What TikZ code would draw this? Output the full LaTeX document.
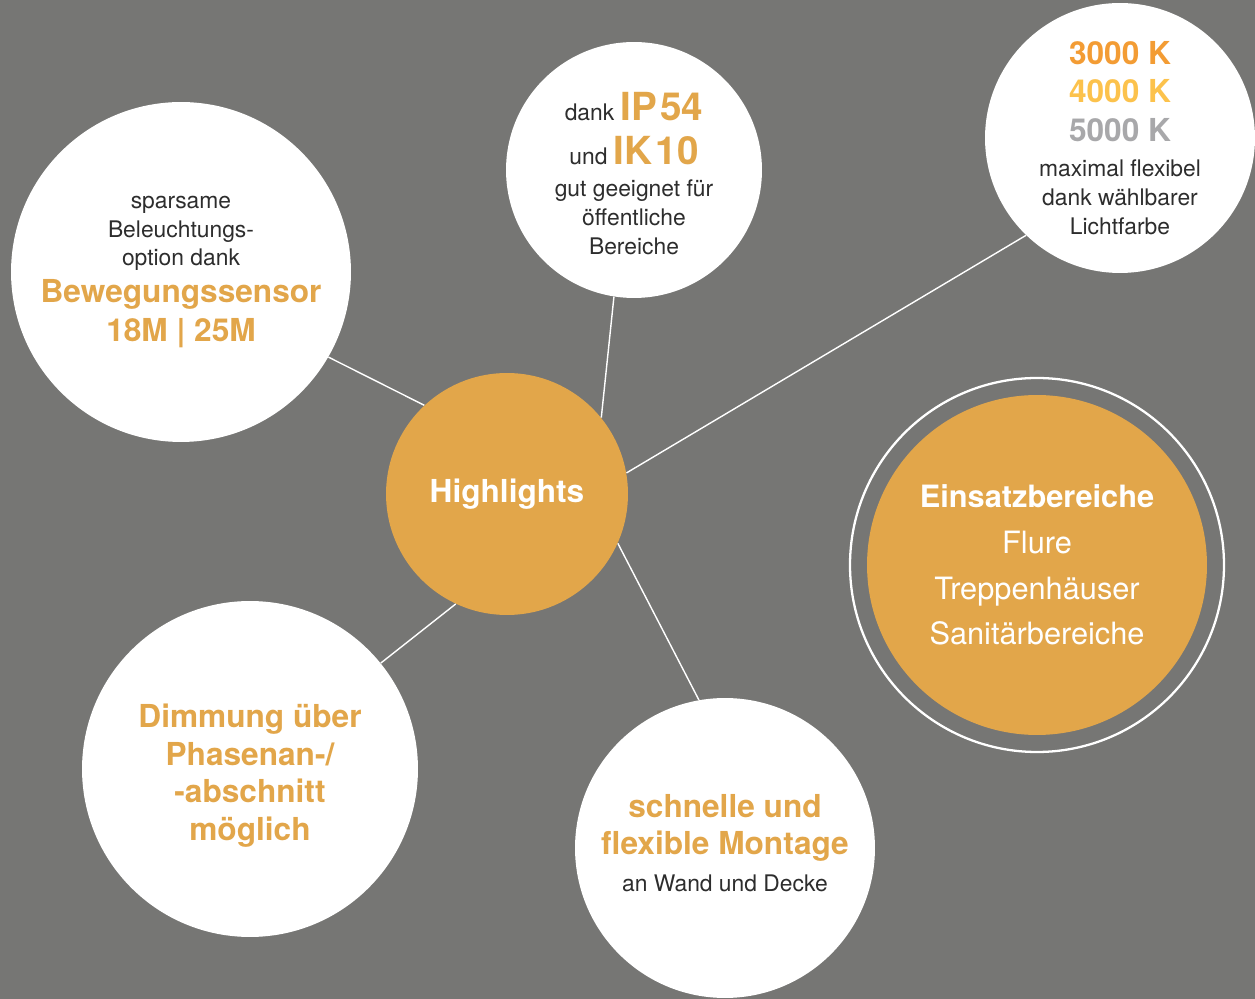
\documentclass[tikz,border=0pt]{standalone}
\usepackage{fontspec}
\setmainfont{TeX Gyre Heros}
\definecolor{bggray}{RGB}{118,118,116}
\definecolor{amber}{RGB}{226,166,74}
\definecolor{warmK}{RGB}{243,156,52}
\definecolor{neutralK}{RGB}{252,194,76}
\definecolor{coolK}{RGB}{168,168,170}
\definecolor{ink}{RGB}{45,45,45}
\newcommand{\txt}{\fontsize{13}{16.4}\selectfont}
\newcommand{\hilite}[1]{{\color{amber}\bfseries\fontsize{18}{21.6}\selectfont #1}}
\newcommand{\rating}[1]{{\color{amber}\bfseries\fontsize{22}{26}\selectfont #1}}

\begin{document}
\begin{tikzpicture}[x=0.02cm, y=-0.02cm,
    bubble/.style={circle, fill=white, inner sep=0pt, align=center, text=ink, font=\txt},
    hub/.style={circle, fill=amber, inner sep=0pt, align=center, text=white},
    link/.style={white, line width=0.8pt},
    ring/.style={white, line width=1.3pt}]
    \fill [bggray] (0,0) rectangle (1255,999);
    \useasboundingbox (0,0) rectangle (1255,999);
    \coordinate (H) at (507,494);
    \coordinate (S) at (181,272);
    \coordinate (I) at (634,170);
    \coordinate (K) at (1120,138);
    \coordinate (D) at (250,769);
    \coordinate (M) at (725,848);
    \coordinate (E) at (1037,565);
    \node[hub, minimum size=4.84cm, font=\bfseries\fontsize{18}{21.6}\selectfont] (hl) at (H) {Highlights};
    \node[bubble, minimum size=6.8cm] (sensor) at (S) {sparsame\\Beleuchtungs-\\option dank\\[4.6pt]\hilite{Bewegungssensor}\\[4pt]\hilite{18M | 25M}};
    \node[bubble, minimum size=5.12cm] (ip) at (I) {\rule{0pt}{20pt}dank \rating{IP\hspace{0.08em}54}\\[8.6pt]und \rating{IK\hspace{0.08em}10}\\[1.7pt]gut geeignet für\\öffentliche\\Bereiche};
    \node[bubble, minimum size=5.4cm] (kelvin) at (K) {{\bfseries\fontsize{18}{21.6}\selectfont\color{warmK}3000 K}\\[5.6pt]{\bfseries\fontsize{18}{21.6}\selectfont\color{neutralK}4000 K}\\[5.6pt]{\bfseries\fontsize{18}{21.6}\selectfont\color{coolK}5000 K}\\[3.6pt]maximal flexibel\\dank wählbarer\\Lichtfarbe};
    \node[bubble, minimum size=6.72cm, text=amber, font=\bfseries\fontsize{18}{21.6}\selectfont] (dim) at (D) {\rule{0pt}{21pt}Dimmung über\\Phasenan-/\\-abschnitt\\möglich};
    \node[bubble, minimum size=6cm] (mount) at (M) {\hilite{schnelle und}\\[5pt]\hilite{flexible Montage}\\[4.6pt]an Wand und Decke\rule[-5.6pt]{0pt}{5.6pt}};
    \node[hub, minimum size=6.8cm, font=\fontsize{17.5}{26}\selectfont] (use) at (E) {{\bfseries Einsatzbereiche}\\Flure\\Treppenhäuser\\Sanitärbereiche};
    \draw [ring] (use.center) circle [radius=187];
    \draw [link] (hl.133) -- (sensor.-30);
    \draw [link] (hl.39) -- (ip.261);
    \draw [link] (hl.10) -- (kelvin.226);
    \draw [link] (hl.245) -- (dim.39);
    \draw [link] (hl.-24) -- (mount.100);
\end{tikzpicture}
\end{document}
